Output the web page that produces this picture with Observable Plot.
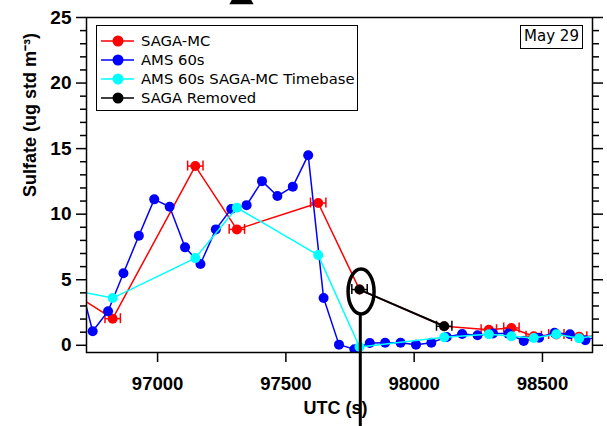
<!DOCTYPE html>
<html><head><meta charset="utf-8">
<script src="https://cdn.jsdelivr.net/npm/d3@7"></script>
<script src="https://cdn.jsdelivr.net/npm/@observablehq/plot@0.6"></script>
<style>
body{margin:0;background:#fff;}
#wrap{position:relative;width:607px;height:426px;overflow:hidden;background:#fff;}
.legend{position:absolute;left:96px;top:25px;width:262px;height:86px;border:1.5px solid #000;background:#fff;box-sizing:border-box;padding-top:5px;font-family:"DejaVu Sans",sans-serif;font-size:14.8px;color:#000;}
.row{height:19px;display:flex;align-items:center;}
.row svg{margin-left:4px;margin-right:6px;flex:none;}
.date{position:absolute;left:520px;top:25px;width:63px;height:24px;border:1.5px solid #000;box-sizing:border-box;font-family:"DejaVu Sans",sans-serif;font-size:15px;line-height:21px;text-align:center;background:#fff;}
</style></head>
<body><div id="wrap"></div>
<script>
// ---- data ----
const amsT = [96687,96747,96807,96867,96927,96987,97047,97107,97167,97227,97287,97347,97407,97467,97527,97587,97647,97707,97767,97827,97887,97947,98007,98067,98127,98187,98247,98307,98367,98427,98487,98547,98607,98667,98727];
const amsV = [5.6,1.07,2.6,5.5,8.35,11.13,10.57,7.47,6.2,8.84,10.39,10.69,12.52,11.38,12.1,14.5,3.6,0.05,-0.3,0.18,0.2,0.2,0.05,0.2,0.63,0.86,0.76,0.9,0.89,0.33,0.58,0.95,0.84,0.38,0.74];
const sagaT = [96680,96825,97147,97309,97626,97787,98117,98291,98379,98466,98554,98643,98731];
const sagaV = [3.84,2.03,13.67,8.84,10.85,4.25,1.45,1.19,1.32,0.69,0.82,0.66,0.7];
const ams2sagaV = [4.17,3.6,6.65,10.49,6.88,-0.13,0.61,0.84,0.69,0.56,0.84,0.53,0.8];
const removedT = [97787,98117];
const removedV = [4.25,1.45];
const sagaErrT = [96825,97147,97309,97626,98291,98379,98466,98554,98643];
const sagaErrV = [2.03,13.67,8.84,10.85,1.19,1.32,0.69,0.82,0.66];
const errHalf = 30;     // s, half width of SAGA integration bar
const capHalf = 0.38;   // cap half height (ug m-3)
const xTicks = [97000,97500,98000,98500];
const yMajor = [0,5,10,15,20,25];
const yMinor = d3.range(0,26).filter(d => d % 5 !== 0);
const seriesNames = ["SAGA-MC","AMS 60s","AMS 60s SAGA-MC Timebase","SAGA Removed"];
const seriesColors = ["#ff0000","#0000ff","#00ffff","#000000"];
const dateLabel = "May 29";
const xLabel = "UTC (s)";
const yLabel = "Sulfate (ug std m\u207B\u00B3)";
// annotation (callout) positions in data units
const calloutT = 97795, calloutV = 4.06;
const calloutLineT = 97790, calloutLineTop = 2.36, calloutLineBottom = -6.6;
const arrowTip = [{t:97327, v:26.55}];

const ams = amsT.map((t,i)=>({t, v:amsV[i]}));
const saga = sagaT.map((t,i)=>({t, v:sagaV[i]}));
const ams2 = sagaT.map((t,i)=>({t, v:ams2sagaV[i]}));
const removed = removedT.map((t,i)=>({t, v:removedV[i]}));
const sagaErr = sagaErrT.map((t,i)=>({t, v:sagaErrV[i]}));
const caps = arr => arr.flatMap(d => [{t:d.t-errHalf, v:d.v},{t:d.t+errHalf, v:d.v}]);

const errMarks = (arr, color) => [
  Plot.link(arr, {x1:d=>d.t-errHalf, x2:d=>d.t+errHalf, y1:"v", y2:"v", stroke:color, strokeWidth:1.5, clip:true}),
  Plot.ruleX(caps(arr), {x:"t", y1:d=>d.v-capHalf, y2:d=>d.v+capHalf, stroke:color, strokeWidth:1.5, clip:true})
];

const chart = Plot.plot({
  width:607, height:426,
  marginLeft:86, marginRight:15, marginTop:17, marginBottom:74,
  style:{fontFamily:"'Liberation Sans', Arial, sans-serif", fontSize:"18px", fontWeight:"bold", background:"white", color:"black"},
  x:{domain:[96723,98695]},
  y:{domain:[-0.55,25]},
  marks:[
    Plot.line(saga, {x:"t", y:"v", stroke:seriesColors[0], strokeWidth:1.5, clip:true}),
    ...errMarks(sagaErr, seriesColors[0]),
    Plot.dot(saga, {x:"t", y:"v", r:5, fill:seriesColors[0], clip:true}),
    Plot.line(ams, {x:"t", y:"v", stroke:seriesColors[1], strokeWidth:1.5, clip:true}),
    Plot.dot(ams, {x:"t", y:"v", r:5, fill:seriesColors[1], clip:true}),
    Plot.line(ams2, {x:"t", y:"v", stroke:seriesColors[2], strokeWidth:1.5, clip:true}),
    Plot.dot(ams2, {x:"t", y:"v", r:5, fill:seriesColors[2], clip:true}),
    Plot.line(removed, {x:"t", y:"v", stroke:seriesColors[3], strokeWidth:2}),
    ...errMarks(removed, seriesColors[3]),
    Plot.dot(removed, {x:"t", y:"v", r:5, fill:seriesColors[3]}),
    Plot.frame({stroke:"black", strokeWidth:1.5}),
    Plot.axisY(yMajor, {anchor:"left", tickSize:10, tickPadding:5, strokeWidth:1.5, label:null, tickFormat:d=>String(d), fontSize:19}),
    Plot.axisY(yMinor, {anchor:"left", tickSize:6, strokeWidth:1.5, label:null, tickFormat:()=>""}),
    Plot.axisY(yMajor, {anchor:"right", tickSize:10, strokeWidth:1.5, label:null, tickFormat:()=>""}),
    Plot.axisY(yMinor, {anchor:"right", tickSize:6, strokeWidth:1.5, label:null, tickFormat:()=>""}),
    Plot.axisX(xTicks, {anchor:"bottom", tickSize:10, tickPadding:14, strokeWidth:1.5, label:null, tickFormat:d=>String(d), fontSize:18.5}),
    Plot.text([xLabel], {frameAnchor:"bottom", dy:61, fontSize:18, fontWeight:"bold", dx:-4}),
    Plot.text([yLabel], {frameAnchor:"left", rotate:-90, dx:-56, dy:12, fontSize:18, fontWeight:"bold"}),
    Plot.ruleX([calloutLineT], {y1:calloutLineBottom, y2:calloutLineTop, stroke:"black", strokeWidth:3}),
    Plot.dot(arrowTip, {x:"t", y:"v", symbol:"triangle", r:9, fill:"black", stroke:null})
  ]
});

// callout ellipse placed via the chart's scales
const sx = chart.scale("x"), sy = chart.scale("y");
d3.select(chart).append("ellipse")
  .attr("cx", sx.apply(calloutT)).attr("cy", sy.apply(calloutV))
  .attr("rx", 13).attr("ry", 22.5)
  .attr("fill","none").attr("stroke","black").attr("stroke-width",3.5);

const wrap = document.getElementById("wrap");
wrap.appendChild(chart);

// legend
const leg = document.createElement("div");
leg.className = "legend";
seriesNames.forEach((name,i)=>{
  const row = document.createElement("div");
  row.className = "row";
  const c = seriesColors[i];
  row.innerHTML = `<svg width="34" height="14"><line x1="0" y1="7" x2="33" y2="7" stroke="${c}" stroke-width="1.5"/><circle cx="17" cy="7" r="5.5" fill="${c}"/></svg><span>${name}</span>`;
  leg.appendChild(row);
});
wrap.appendChild(leg);

const dt = document.createElement("div");
dt.className = "date";
dt.textContent = dateLabel;
wrap.appendChild(dt);
</script>
</body></html>
